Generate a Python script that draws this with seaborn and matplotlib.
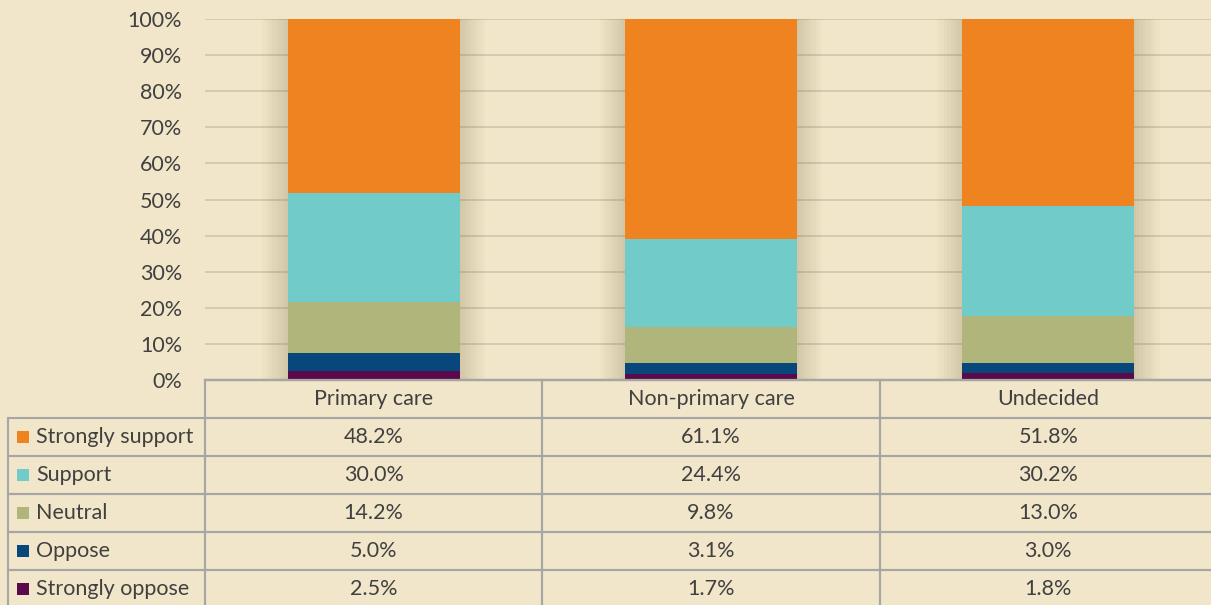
import matplotlib
matplotlib.use("Agg")
import matplotlib.pyplot as plt
import seaborn as sns
import pandas as pd

groups = ["Primary care", "Non-primary care", "Undecided"]
responses = ["Strongly support", "Support", "Neutral", "Oppose", "Strongly oppose"]
strongly_support = [48.2, 61.1, 51.8]
support = [30.0, 24.4, 30.2]
neutral = [14.2, 9.8, 13.0]
oppose = [5.0, 3.1, 3.0]
strongly_oppose = [2.5, 1.7, 1.8]
colors = ["#EE8320", "#70CBC9", "#B0B67B", "#08477C", "#5A0A4A"]
tick_labels = [f"{v}%" for v in range(0, 101, 10)]

bg = "#F1E6C9"
txt = "#404040"
grid_col = "#CDC5AC"
table_edge = "#A6A6A6"
fs = 15.5

sns.set_style("white")
plt.rcParams["font.family"] = ["Lato", "DejaVu Sans"]

df = pd.DataFrame(
    {"Strongly support": strongly_support, "Support": support, "Neutral": neutral,
     "Oppose": oppose, "Strongly oppose": strongly_oppose},
    index=groups,
)
# 100% stacked: normalise each group, cumulate from the bottom segment up
shares = df.div(df.sum(axis=1), axis=0) * 100
cum = shares[responses[::-1]].cumsum(axis=1)

W, H = 1211, 605
fig = plt.figure(figsize=(W / 100, H / 100), dpi=100, facecolor=bg)
ax = fig.add_axes([205 / W, 1 - 380 / H, (1217 - 205) / W, (380 - 19) / H])
ax.set_facecolor(bg)

# soft shadow behind the bars
for w in [0.52, 0.54, 0.56, 0.58, 0.60, 0.62, 0.64, 0.66]:
    sns.barplot(x=groups, y=[100] * len(groups), width=w, color="#7A6A40",
                alpha=0.032, saturation=1, linewidth=0, ax=ax)

for resp, col in zip(responses, colors):
    sns.barplot(x=groups, y=cum[resp].values, width=0.51, color=col,
                saturation=1, linewidth=0, ax=ax)

ax.set_ylim(0, 100)
ax.set_xlim(-0.5, 2.5)
ax.set_yticks(range(0, 101, 10))
ax.set_yticklabels(tick_labels)
ax.yaxis.grid(True, color=grid_col, lw=1.2)
ax.set_axisbelow(True)
ax.tick_params(axis="y", length=0, pad=16.5, labelsize=fs, labelcolor=txt)
ax.tick_params(axis="x", length=0, labelbottom=False)
ax.set_xlabel("")
ax.set_ylabel("")
for s in ["left", "right", "top"]:
    ax.spines[s].set_visible(False)
ax.spines["bottom"].set_color("#7F7F7F")
ax.spines["bottom"].set_linewidth(1.6)

# data table under the plot
tax = fig.add_axes([8 / W, 1 - 608 / H, (1217 - 8) / W, (608 - 380) / H])
tax.axis("off")
tax.set_xlim(0, 1)
tax.set_ylim(0, 1)

cells = [[""] + groups]
for resp in responses:
    cells.append([resp] + [f"{v:.1f}%" for v in df[resp]])

first_w = 197 / 1209
col_w = [first_w] + [(1 - first_w) / 3] * 3
table = tax.table(cellText=cells, cellLoc="center", colWidths=col_w, bbox=[0, 0, 1, 1])
table.auto_set_font_size(False)
table.set_fontsize(fs)
for (r, c), cell in table.get_celld().items():
    cell.set_facecolor("none")
    cell.set_edgecolor(table_edge)
    cell.set_linewidth(1.5)
    cell.get_text().set_color(txt)
    if c == 0:
        cell._loc = "left"
        cell.get_text().set_ha("left")
        cell.PAD = 0.142
table[0, 0].visible_edges = "open"

n_rows = len(cells)
for i, col in enumerate(colors):
    y = (n_rows - (i + 1) - 0.5) / n_rows
    tax.scatter([14.5 / 1209], [y], marker="s", s=86, color=col, linewidths=0, clip_on=False)

fig.savefig("out.png", dpi=100, facecolor=bg)
